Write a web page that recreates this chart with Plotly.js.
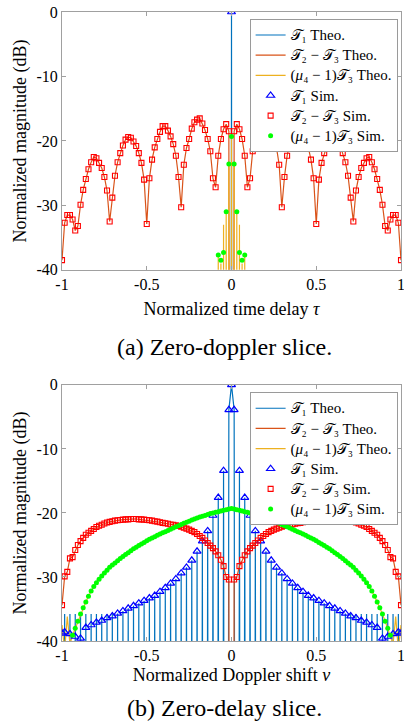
<!DOCTYPE html>
<html><head><meta charset="utf-8">
<script src="https://cdn.plot.ly/plotly-3.0.1.min.js"></script>
<style>html,body{margin:0;padding:0;background:#fff;}#plot{width:404px;height:727px;}</style>
</head><body><div id="plot"></div>
<script>
// ---------- shared sample grid (normalized delay / Doppler, step 1/64) ----------
const X64 = [-1,-0.9844,-0.9688,-0.9531,-0.9375,-0.9219,-0.9063,-0.8906,-0.875,-0.8594,-0.8438,-0.8281,-0.8125,-0.7969,-0.7813,-0.7656,-0.75,-0.7344,-0.7188,-0.7031,-0.6875,-0.6719,-0.6563,-0.6406,-0.625,-0.6094,-0.5938,-0.5781,-0.5625,-0.5469,-0.5313,-0.5156,-0.5,-0.4844,-0.4688,-0.4531,-0.4375,-0.4219,-0.4063,-0.3906,-0.375,-0.3594,-0.3438,-0.3281,-0.3125,-0.2969,-0.2813,-0.2656,-0.25,-0.2344,-0.2188,-0.2031,-0.1875,-0.1719,-0.1563,-0.1406,-0.125,-0.1094,-0.0938,-0.0781,-0.0625,-0.0469,-0.0313,-0.0156,0,0.0156,0.0313,0.0469,0.0625,0.0781,0.0938,0.1094,0.125,0.1406,0.1563,0.1719,0.1875,0.2031,0.2188,0.2344,0.25,0.2656,0.2813,0.2969,0.3125,0.3281,0.3438,0.3594,0.375,0.3906,0.4063,0.4219,0.4375,0.4531,0.4688,0.4844,0.5,0.5156,0.5313,0.5469,0.5625,0.5781,0.5938,0.6094,0.625,0.6406,0.6563,0.6719,0.6875,0.7031,0.7188,0.7344,0.75,0.7656,0.7813,0.7969,0.8125,0.8281,0.8438,0.8594,0.875,0.8906,0.9063,0.9219,0.9375,0.9531,0.9688,0.9844,1];

// ---------- (a) zero-doppler slice ----------
// -300 stands for -inf dB (off the axis)
const TOP_T1_X = [-0.0078, 0, 0.0078];
const TOP_T1_THEO = [-300, 0, -300];
const TOP_T1_SIM_X = [0];
const TOP_T1_SIM = [0];
const TOP_T23 = [-38.5,-32.7,-31.5,-31.5,-32.2,-33.9,-33.2,-29.9,-27.6,-25.9,-24.4,-23.3,-22.5,-22.7,-23.4,-24.2,-25.6,-27.7,-32.5,-28.8,-25.4,-23.3,-21.9,-20.7,-19.8,-19.4,-19.5,-20.1,-20.8,-21.9,-23.4,-26.0,-32.9,-25.8,-22.9,-21.0,-19.7,-18.6,-17.7,-17.7,-18.4,-19.3,-20.5,-22.3,-25.6,-30.3,-23.7,-21.1,-19.7,-18.1,-17.1,-16.7,-16.5,-17.3,-18.3,-19.7,-21.6,-25.8,-27.2,-22.3,-19.7,-18.2,-17.4,-18.5,
  -300,
  -18.5,-17.4,-18.2,-19.7,-22.3,-27.2,-25.8,-21.6,-19.7,-18.3,-17.3,-16.5,-16.7,-17.1,-18.1,-19.7,-21.1,-23.7,-30.3,-25.6,-22.3,-20.5,-19.3,-18.4,-17.7,-17.7,-18.6,-19.7,-21.0,-22.9,-25.8,-32.9,-26.0,-23.4,-21.9,-20.8,-20.1,-19.5,-19.4,-19.8,-20.7,-21.9,-23.3,-25.4,-28.8,-32.5,-27.7,-25.6,-24.2,-23.4,-22.7,-22.5,-23.3,-24.4,-25.9,-27.6,-29.9,-33.2,-33.9,-32.2,-31.5,-31.5,-32.7,-38.5];
const TOP_T3_THEO_X = [-0.0938,-0.0859,-0.0781,-0.0703,-0.0625,-0.0547,-0.0469,-0.0391,-0.0313,-0.0234,-0.0156,-0.0078,0,0.0078,0.0156,0.0234,0.0313,0.0391,0.0469,0.0547,0.0625,0.0703,0.0781,0.0859,0.0938];
const TOP_T3_THEO = [-300,-300,-37.5,-300,-39.0,-300,-33.0,-300,-31.0,-300,-23.6,-300,-19.3,-300,-23.6,-300,-31.0,-300,-33.0,-300,-39.0,-300,-37.5,-300,-300];
const TOP_T3_SIM_X = [-0.0781,-0.0625,-0.0469,-0.0313,-0.0156,0,0.0156,0.0313,0.0469,0.0625,0.0781];
const TOP_T3_SIM = [-37.7,-38.5,-37.3,-31.0,-23.6,-19.3,-23.6,-31.0,-37.3,-38.5,-37.7];

// ---------- (b) zero-delay slice ----------
const BOT_T1_THEO = [-300,-35.8,-300,-35.8,-300,-35.8,-300,-35.8,-300,-35.8,-300,-35.8,-300,-35.8,-300,-35.8,-300,-35.8,-300,-35.8,-300,-35.7,-300,-35.3,-300,-34.9,-300,-34.5,-300,-34.1,-300,-33.7,-300,-33.3,-300,-32.9,-300,-32.3,-300,-31.7,-300,-31.0,-300,-30.3,-300,-29.4,-300,-28.5,-300,-27.4,-300,-26.0,-300,-24.4,-300,-22.8,-300,-20.4,-300,-17.6,-300,-13.4,-300,-3.9,
  0,
  -3.9,-300,-13.4,-300,-17.6,-300,-20.4,-300,-22.8,-300,-24.4,-300,-26.0,-300,-27.4,-300,-28.5,-300,-29.4,-300,-30.3,-300,-31.0,-300,-31.7,-300,-32.3,-300,-32.9,-300,-33.3,-300,-33.7,-300,-34.1,-300,-34.5,-300,-34.9,-300,-35.3,-300,-35.7,-300,-35.8,-300,-35.8,-300,-35.8,-300,-35.8,-300,-35.8,-300,-35.8,-300,-35.8,-300,-35.8,-300,-35.8,-300,-35.8,-300];
const BOT_T1_SIM_X = [-1,-0.9844,-0.9531,-0.9219,-0.8906,-0.8594,-0.8281,-0.7969,-0.7656,-0.7344,-0.7031,-0.6719,-0.6406,-0.6094,-0.5781,-0.5469,-0.5156,-0.4844,-0.4531,-0.4219,-0.3906,-0.3594,-0.3281,-0.2969,-0.2656,-0.2344,-0.2031,-0.1719,-0.1406,-0.1094,-0.0781,-0.0469,-0.0156,0,0.0156,0.0469,0.0781,0.1094,0.1406,0.1719,0.2031,0.2344,0.2656,0.2969,0.3281,0.3594,0.3906,0.4219,0.4531,0.4844,0.5156,0.5469,0.5781,0.6094,0.6406,0.6719,0.7031,0.7344,0.7656,0.7969,0.8281,0.8594,0.8906,0.9219,0.9531,0.9844,1];
const BOT_T1_SIM = [-38.8,-38.6,-38.9,-39.3,-39.6,-37.9,-37.5,-37.1,-36.8,-36.4,-36.1,-35.7,-35.3,-34.9,-34.5,-34.1,-33.7,-33.3,-32.9,-32.3,-31.7,-31.0,-30.3,-29.4,-28.5,-27.4,-26.0,-24.4,-22.8,-20.4,-17.6,-13.4,-3.9,
  0,
  -3.9,-13.4,-17.6,-20.4,-22.8,-24.4,-26.0,-27.4,-28.5,-29.4,-30.3,-31.0,-31.7,-32.3,-32.9,-33.3,-33.7,-34.1,-34.5,-34.9,-35.3,-35.7,-36.1,-36.4,-36.8,-37.1,-37.5,-37.9,-39.6,-39.3,-38.9,-38.6,-38.8];
const BOT_T23 = [-34.4,-29.9,-29.2,-27.1,-26.9,-25.8,-25.0,-24.4,-23.9,-23.4,-23.1,-22.8,-22.5,-22.2,-22.0,-21.85,-21.65,-21.5,-21.4,-21.3,-21.2,-21.15,-21.1,-21.05,-21.0,-21.0,-20.95,-20.95,-20.95,-21.0,-21.0,-21.05,-21.1,-21.15,-21.2,-21.3,-21.35,-21.45,-21.55,-21.6,-21.7,-21.8,-21.85,-21.95,-22.05,-22.15,-22.3,-22.45,-22.6,-22.8,-23.0,-23.3,-23.6,-23.9,-24.3,-24.7,-25.1,-25.5,-26.0,-26.6,-27.3,-28.3,-30.0,-30.4,
  -300,
  -30.4,-30.0,-28.3,-27.3,-26.6,-26.0,-25.5,-25.1,-24.7,-24.3,-23.9,-23.6,-23.3,-23.0,-22.8,-22.6,-22.45,-22.3,-22.15,-22.05,-21.95,-21.85,-21.8,-21.7,-21.6,-21.55,-21.45,-21.35,-21.3,-21.2,-21.15,-21.1,-21.05,-21.0,-21.0,-20.95,-20.95,-20.95,-21.0,-21.0,-21.05,-21.1,-21.15,-21.2,-21.3,-21.4,-21.5,-21.65,-21.85,-22.0,-22.2,-22.5,-22.8,-23.1,-23.4,-23.9,-24.4,-25.0,-25.8,-26.9,-27.1,-29.2,-29.9,-34.4];
const BOT_T3_THEO = [-37.5,-41.5,-36.2,-40.5,-39.1,-38.0,-36.9,-35.8,-34.8,-33.9,-33.0,-32.2,-31.5,-30.9,-30.35,-29.85,-29.4,-28.95,-28.5,-28.15,-27.8,-27.45,-27.1,-26.8,-26.5,-26.2,-25.9,-25.6,-25.35,-25.1,-24.85,-24.6,-24.35,-24.1,-23.9,-23.7,-23.5,-23.3,-23.1,-22.95,-22.75,-22.55,-22.35,-22.15,-22.0,-21.8,-21.6,-21.45,-21.3,-21.1,-20.95,-20.8,-20.65,-20.5,-20.4,-20.25,-20.1,-20.0,-19.9,-19.8,-19.7,-19.6,-19.5,-19.4,
  -19.3,
  -19.4,-19.5,-19.6,-19.7,-19.8,-19.9,-20.0,-20.1,-20.25,-20.4,-20.5,-20.65,-20.8,-20.95,-21.1,-21.3,-21.45,-21.6,-21.8,-22.0,-22.15,-22.35,-22.55,-22.75,-22.95,-23.1,-23.3,-23.5,-23.7,-23.9,-24.1,-24.35,-24.6,-24.85,-25.1,-25.35,-25.6,-25.9,-26.2,-26.5,-26.8,-27.1,-27.45,-27.8,-28.15,-28.5,-28.95,-29.4,-29.85,-30.35,-30.9,-31.5,-32.2,-33.0,-33.9,-34.8,-35.8,-36.9,-38.0,-39.1,-40.5,-36.2,-41.5,-37.5];
const BOT_T3_SIM = [-46.0,-44.0,-42.5,-40.5,-39.1,-38.0,-36.9,-35.8,-34.8,-33.9,-33.0,-32.2,-31.5,-30.9,-30.35,-29.85,-29.4,-28.95,-28.5,-28.15,-27.8,-27.45,-27.1,-26.8,-26.5,-26.2,-25.9,-25.6,-25.35,-25.1,-24.85,-24.6,-24.35,-24.1,-23.9,-23.7,-23.5,-23.3,-23.1,-22.95,-22.75,-22.55,-22.35,-22.15,-22.0,-21.8,-21.6,-21.45,-21.3,-21.1,-20.95,-20.8,-20.65,-20.5,-20.4,-20.25,-20.1,-20.0,-19.9,-19.8,-19.7,-19.6,-19.5,-19.4,
  -19.3,
  -19.4,-19.5,-19.6,-19.7,-19.8,-19.9,-20.0,-20.1,-20.25,-20.4,-20.5,-20.65,-20.8,-20.95,-21.1,-21.3,-21.45,-21.6,-21.8,-22.0,-22.15,-22.35,-22.55,-22.75,-22.95,-23.1,-23.3,-23.5,-23.7,-23.9,-24.1,-24.35,-24.6,-24.85,-25.1,-25.35,-25.6,-25.9,-26.2,-26.5,-26.8,-27.1,-27.45,-27.8,-28.15,-28.5,-28.95,-29.4,-29.85,-30.35,-30.9,-31.5,-32.2,-33.0,-33.9,-34.8,-35.8,-36.9,-38.0,-39.1,-40.5,-42.5,-44.0,-46.0];

// ---------- labels ----------
const X_TICKS = [-1, -0.5, 0, 0.5, 1];
const X_TICK_TEXT = ['-1', '-0.5', '0', '0.5', '1'];
const Y_TICKS = [-40, -30, -20, -10, 0];
const Y_TICK_TEXT = ['-40', '-30', '-20', '-10', '0'];
const NAMES = ['𝒯₁ Theo.', '𝒯₂ − 𝒯₃ Theo.', '(<i>μ</i>₄ − 1)𝒯₃ Theo.',
               '𝒯₁ Sim.', '𝒯₂ − 𝒯₃ Sim.', '(<i>μ</i>₄ − 1)𝒯₃ Sim.'];
const CAPTIONS = ['(a) Zero-doppler slice.', '(b) Zero-delay slice.'];
const X_TITLES = ['Normalized time delay <i>τ</i>', 'Normalized Doppler shift <i>ν</i>'];
const Y_TITLE = 'Normalized magnitude (dB)';

// ---------- styles ----------
const C_T1 = '#0072BD', C_T23 = '#D95319', C_T3 = '#EDB120';
const C_T1S = '#0000FF', C_T23S = '#FF0000', C_T3S = '#00FF00';
const FONT = 'Liberation Serif, Times New Roman, serif';
const AX = '#a0a0a0';
const LEG_TEXT = n => '<span style="font-size:15px">' + n + '</span>';

function tracesFor(xa, ya, leg, t1x, t1y, t23x, t23y, t3x, t3y, s1x, s1y, s23x, s23y, s3x, s3y) {
  return [
    {x: t1x, y: t1y, mode: 'lines', name: LEG_TEXT(NAMES[0]), line: {color: C_T1, width: 1.2}, xaxis: xa, yaxis: ya, legend: leg},
    {x: t23x, y: t23y, mode: 'lines', name: LEG_TEXT(NAMES[1]), line: {color: C_T23, width: 1.2}, xaxis: xa, yaxis: ya, legend: leg},
    {x: t3x, y: t3y, mode: 'lines', name: LEG_TEXT(NAMES[2]), line: {color: C_T3, width: 1.2}, xaxis: xa, yaxis: ya, legend: leg},
    {x: s1x, y: s1y, mode: 'markers', name: LEG_TEXT(NAMES[3]), marker: {symbol: 'triangle-up-open', size: 7, color: C_T1S, line: {width: 1.2}}, xaxis: xa, yaxis: ya, legend: leg},
    {x: s23x, y: s23y, mode: 'markers', name: LEG_TEXT(NAMES[4]), marker: {symbol: 'square-open', size: 5, color: C_T23S, line: {width: 1.1}}, xaxis: xa, yaxis: ya, legend: leg},
    {x: s3x, y: s3y, mode: 'markers', name: LEG_TEXT(NAMES[5]), marker: {symbol: 'circle', size: 5, color: C_T3S}, xaxis: xa, yaxis: ya, legend: leg}
  ];
}

const data = [].concat(
  tracesFor('x', 'y', 'legend', TOP_T1_X, TOP_T1_THEO, X64, TOP_T23, TOP_T3_THEO_X, TOP_T3_THEO,
            TOP_T1_SIM_X, TOP_T1_SIM, X64, TOP_T23, TOP_T3_SIM_X, TOP_T3_SIM),
  tracesFor('x2', 'y2', 'legend2', X64, BOT_T1_THEO, X64, BOT_T23, X64, BOT_T3_THEO,
            BOT_T1_SIM_X, BOT_T1_SIM, X64, BOT_T23, X64, BOT_T3_SIM)
);

function xAxis(anchor, title, standoff) {
  return {anchor: anchor, domain: [0, 1], range: [-1, 1], tickvals: X_TICKS, ticktext: X_TICK_TEXT,
    ticks: 'inside', ticklen: 4, tickcolor: AX, showline: true, linecolor: AX, linewidth: 1, mirror: 'ticks',
    showgrid: false, zeroline: false, ticklabeloverflow: 'allow', tickfont: {family: FONT, size: 16, color: '#000'},
    title: {text: title, font: {family: FONT, size: 18, color: '#000'}, standoff: standoff}};
}
function yAxis(anchor, dom) {
  return {anchor: anchor, domain: dom, range: [-40, 0], tickvals: Y_TICKS, ticktext: Y_TICK_TEXT,
    ticks: 'inside', ticklen: 4, tickcolor: AX, showline: true, linecolor: AX, linewidth: 1, mirror: 'ticks',
    showgrid: false, zeroline: false, ticklabeloverflow: 'allow', tickfont: {family: FONT, size: 16, color: '#000'},
    title: {text: Y_TITLE, font: {family: FONT, size: 18, color: '#000'}, standoff: 5}};
}
function legendAt(ytop) {
  return {x: 0.99, y: ytop, xanchor: 'right', yanchor: 'top', bgcolor: '#fff', bordercolor: '#9a9a9a', borderwidth: 1,
    font: {family: FONT, size: 13.2, color: '#000'}, itemwidth: 30, tracegroupgap: 0};
}

const layout = {
  width: 404, height: 727,
  margin: {l: 61.5, r: 2.5, t: 12.3, b: 86, pad: 0},
  paper_bgcolor: '#fff', plot_bgcolor: '#fff',
  font: {family: FONT, size: 16, color: '#000'},
  showlegend: true,
  xaxis: xAxis('y', X_TITLES[0], 10),
  yaxis: yAxis('x', [0.5901, 1]),
  xaxis2: xAxis('y2', X_TITLES[1], 5),
  yaxis2: yAxis('x2', [0, 0.4072]),
  legend: legendAt(0.989),
  legend2: legendAt(0.3956),
  annotations: [
    {text: CAPTIONS[0], xref: 'paper', yref: 'paper', x: 0.478, y: 0.4676, xanchor: 'center', yanchor: 'middle', showarrow: false, font: {family: FONT, size: 24, color: '#000'}},
    {text: CAPTIONS[1], xref: 'paper', yref: 'paper', x: 0.478, y: -0.1066, xanchor: 'center', yanchor: 'middle', showarrow: false, font: {family: FONT, size: 24, color: '#000'}}
  ]
};

Plotly.newPlot('plot', data, layout, {displayModeBar: false, staticPlot: true});
</script>
</body></html>
